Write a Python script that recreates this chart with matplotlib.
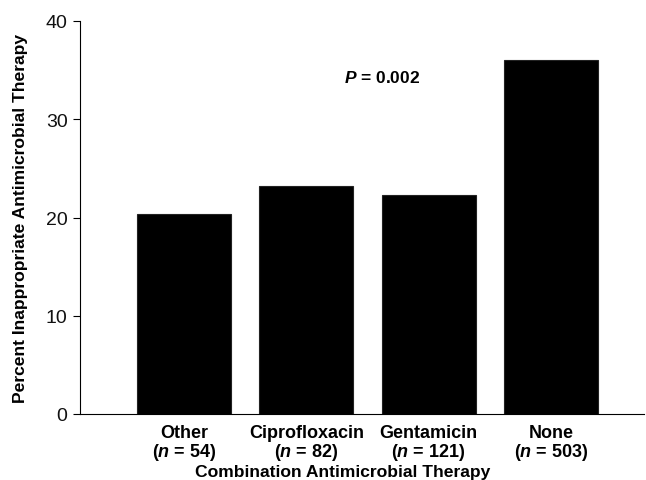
import matplotlib
matplotlib.use("Agg")
import matplotlib.pyplot as plt

categories = ["Other", "Ciprofloxacin", "Gentamicin", "None"]
n_values = [54, 82, 121, 503]
percent_inappropriate = [20.4, 23.2, 22.3, 36.0]
yticks = [0, 10, 20, 30, 40]
p_text = "$P$ = 0.002"

plt.rcParams['font.family'] = ['Liberation Sans', 'DejaVu Sans']
plt.rcParams['mathtext.fontset'] = 'custom'
plt.rcParams['mathtext.it'] = 'Liberation Sans:bold:italic'
plt.rcParams['mathtext.rm'] = 'Liberation Sans:bold'
plt.rcParams['mathtext.bf'] = 'Liberation Sans:bold'

W, H = 646, 481
fig = plt.figure(figsize=(W / 100, H / 100), dpi=100)
left, right = 80 / W, 644 / W
bottom, top = 1 - 415 / H, 1 - 22 / H
ax = fig.add_axes([left, bottom, right - left, top - bottom])

x = list(range(len(categories)))
ax.bar(x, percent_inappropriate, width=0.77, color='black', edgecolor='#222222', linewidth=0.8)

ax.set_xlim(-0.85, 3.76)
ax.set_ylim(0, 40)
ax.set_yticks(yticks)
ax.set_yticklabels([str(t) for t in yticks], fontsize=14, color='#111111')
ax.tick_params(axis='y', direction='out', length=5, width=0.8, pad=4)

labels = [f"{c}\n($n$ = {n})" for c, n in zip(categories, n_values)]
ax.set_xticks(x)
ax.set_xticklabels(labels, fontsize=13, fontweight='bold', linespacing=1.05)
ax.tick_params(axis='x', length=0, pad=7)

for s in ['top', 'right']:
    ax.spines[s].set_visible(False)
ax.spines['left'].set_linewidth(0.8)
ax.spines['bottom'].set_linewidth(0.8)

ax.set_ylabel("Percent Inappropriate Antimicrobial Therapy", fontsize=12.6, fontweight='bold')
ax.yaxis.set_label_coords(-0.092, 0.5)
ax.set_xlabel("Combination Antimicrobial Therapy", fontsize=12.6, fontweight='bold')
ax.xaxis.set_label_coords(0.466, -0.127)

ax.text(1.62, 34.3, p_text, fontsize=12.5, fontweight='bold', ha='center', va='center')

fig.savefig("out.png", dpi=100)
